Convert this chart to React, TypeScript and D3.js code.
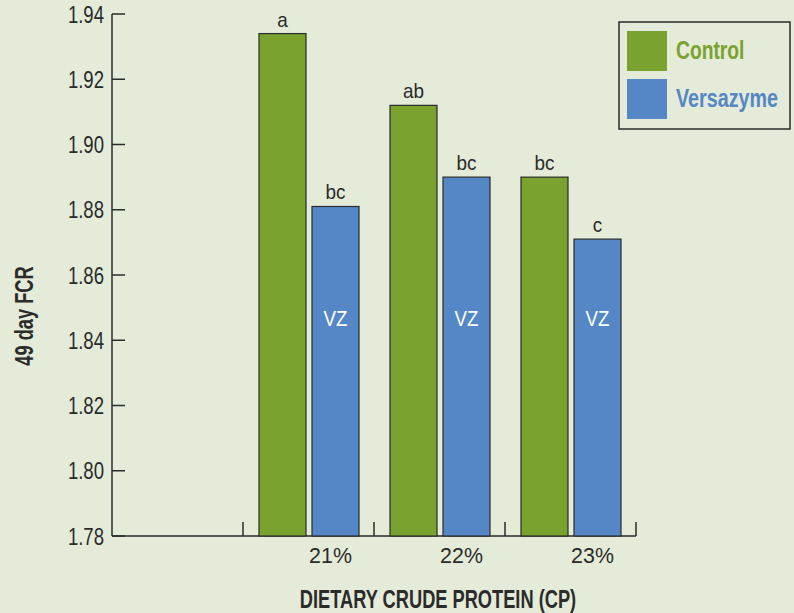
import React from 'react';
import * as d3 from 'd3';

const categories = ['', '21%', '22%', '23%'];
const groups = ['21%', '22%', '23%'];
const controlValues = [1.934, 1.912, 1.89];
const versazymeValues = [1.881, 1.89, 1.871];
const controlLetters = ['a', 'ab', 'bc'];
const versazymeLetters = ['bc', 'bc', 'c'];
const yTicks = [1.78, 1.8, 1.82, 1.84, 1.86, 1.88, 1.9, 1.92, 1.94];

const GREEN = '#79a22f';
const BLUE = '#5587c6';
const BG = '#e4ebd8';
const INK = '#2b2b2b';
const FONT = '"Liberation Sans", Arial, sans-serif';

// narrow text: squeeze horizontally to mimic the condensed face of the original
type TProps = {
  x: number; y: number; sx?: number; rotate?: number; size: number;
  anchor?: 'start' | 'middle' | 'end'; bold?: boolean; fill?: string; children: React.ReactNode;
};
const T = ({ x, y, sx = 0.82, rotate = 0, size, anchor = 'start', bold, fill = INK, children }: TProps) => (
  <text
    transform={`translate(${x},${y}) rotate(${rotate}) scale(${sx},1)`}
    textAnchor={anchor}
    fontSize={size}
    fontWeight={bold ? 'bold' : 'normal'}
    fill={fill}
  >
    {children}
  </text>
);

const App: React.FC = () => {
  const width = 794;
  const height = 613;
  const left = 112;
  const right = 636;
  const top = 14;
  const bottom = 536;

  const x = d3.scaleBand<string>().domain(categories).range([left, right]);
  const y = d3.scaleLinear().domain([1.78, 1.94]).range([bottom, top]);
  const barW = 47;
  const pad = 16;

  return (
    <svg
      width={width}
      height={height}
      style={{ position: 'absolute', left: 0, top: 0, display: 'block', fontFamily: FONT }}
    >
      <rect width={width} height={height} fill={BG} />

      {/* y axis */}
      <line x1={left} x2={left} y1={top} y2={bottom} stroke={INK} strokeWidth={1.5} />
      {yTicks.map(t => (
        <g key={t}>
          <line x1={left} x2={left + 13} y1={y(t)} y2={y(t)} stroke={INK} strokeWidth={1.5} />
          <T x={104} y={y(t) + 8.5} size={23.5} sx={0.79} anchor="end">{d3.format('.2f')(t)}</T>
        </g>
      ))}

      {/* x axis */}
      <line x1={left} x2={right} y1={bottom} y2={bottom} stroke={INK} strokeWidth={1.5} />
      {categories.slice(1).map(c => (
        <line key={c} x1={x(c)!} x2={x(c)!} y1={bottom} y2={bottom - 14} stroke={INK} strokeWidth={1.5} />
      ))}
      <line x1={right} x2={right} y1={bottom} y2={bottom - 14} stroke={INK} strokeWidth={1.5} />

      {groups.map((g, i) => {
        const x0 = x(g)! + pad;
        const x1 = x0 + barW + 6;
        return (
          <g key={g}>
            <rect x={x0} y={y(controlValues[i])} width={barW} height={bottom - y(controlValues[i])}
              fill={GREEN} stroke={INK} strokeWidth={1.2} />
            <rect x={x1} y={y(versazymeValues[i])} width={barW} height={bottom - y(versazymeValues[i])}
              fill={BLUE} stroke={INK} strokeWidth={1.2} />
            <T x={x0 + barW / 2} y={y(controlValues[i]) - 7} size={21} sx={0.9} anchor="middle">
              {controlLetters[i]}
            </T>
            <T x={x1 + barW / 2} y={y(versazymeValues[i]) - 7} size={21} sx={0.9} anchor="middle">
              {versazymeLetters[i]}
            </T>
            <T x={x1 + barW / 2} y={326} size={22} sx={0.85} anchor="middle" fill="#ffffff">VZ</T>
            <T x={x(g)! + x.bandwidth() / 2 + 22} y={563} size={23} sx={0.93} anchor="middle">{g}</T>
          </g>
        );
      })}

      {/* axis titles */}
      <T x={438} y={608} size={25} sx={0.73} anchor="middle" bold>DIETARY CRUDE PROTEIN (CP)</T>
      <T x={33} y={316} size={25} sx={0.73} rotate={-90} anchor="middle" bold>49 day FCR</T>

      {/* legend */}
      <rect x={619} y={22} width={171} height={107} fill="none" stroke={INK} strokeWidth={1.5} />
      <rect x={627} y={31} width={40} height={40} fill={GREEN} />
      <rect x={627} y={79} width={40} height={40} fill={BLUE} />
      <T x={676} y={59} size={25} sx={0.77} bold fill={GREEN}>Control</T>
      <T x={676} y={107} size={25} sx={0.79} bold fill={BLUE}>Versazyme</T>
    </svg>
  );
};

export default App;
